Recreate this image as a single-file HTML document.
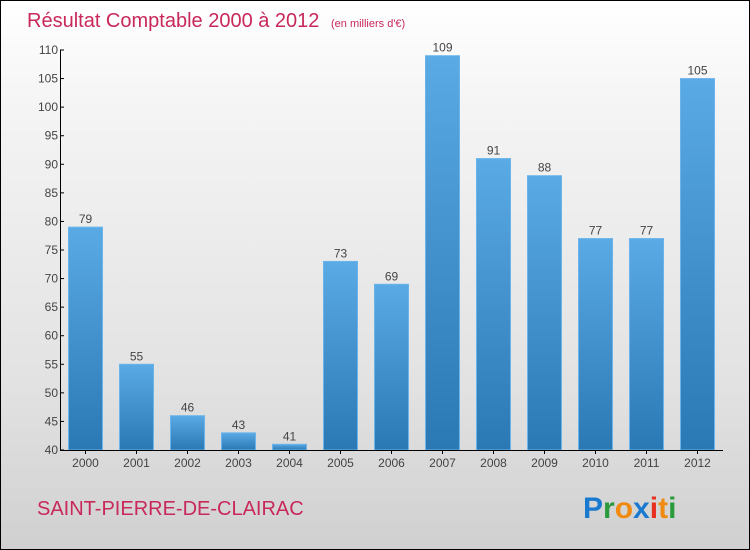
<!DOCTYPE html>
<html><head><meta charset="utf-8"><style>
body{margin:0}
#c{position:relative;width:748px;height:548px;border:1px solid #000;background:linear-gradient(#fff,#f4f4f4 20%,#e2e2e2 70%,#d0d0d0);overflow:hidden;font-family:"Liberation Sans",sans-serif}
</style></head><body>
<div id="c">
<svg id="s" width="748" height="548">
<defs><linearGradient id="g" x1="0" y1="0" x2="0" y2="1"><stop offset="0" stop-color="#5aaae6"/><stop offset="1" stop-color="#2a78b4"/></linearGradient></defs>
<text x="26" y="26" font-size="20" fill="#c8285a">Résultat Comptable 2000 à 2012 <tspan font-size="11" dx="6">(en milliers d'€)</tspan></text>
<text x="36" y="514" font-size="20" fill="#c8285a">SAINT-PIERRE-DE-CLAIRAC</text>
<text x="582" y="517" font-size="30" font-weight="bold"><tspan fill="#1a7ad0">P</tspan><tspan fill="#2a9a3a">r</tspan><tspan fill="#f08a10">o</tspan><tspan fill="#1a7ad0">x</tspan><tspan fill="#e83020">i</tspan><tspan fill="#f08a10">t</tspan><tspan fill="#2a9a3a">i</tspan></text>
<g id="plot"></g>
</svg></div>
<script>
const categories=["2000","2001","2002","2003","2004","2005","2006","2007","2008","2009","2010","2011","2012"];
const values=[79,55,46,43,41,73,69,109,91,88,77,77,105];
const ticks=[40,45,50,55,60,65,70,75,80,85,90,95,100,105,110];
const ns="http://www.w3.org/2000/svg",g=document.getElementById("plot");
const x0=59,band=51,y=v=>449-(v-40)*400/70;
function mk(t,a,txt){const e=document.createElementNS(ns,t);for(const k in a)e.setAttribute(k,a[k]);if(txt!=null)e.textContent=txt;g.appendChild(e);return e;}
categories.forEach((c,i)=>{const cx=x0+band*(i+0.5),v=values[i];
const r=mk("rect",{x:cx-17,y:y(v),width:34,height:449-y(v),fill:"url(#g)",stroke:"#6ab4ea","stroke-width":1});


const l=mk("text",{x:cx,y:y(v)-4,"font-size":12,fill:"#444","text-anchor":"middle"},v);


const t=mk("text",{x:cx,y:466,"font-size":12,fill:"#444","text-anchor":"middle"},c);


mk("line",{x1:cx,x2:cx,y1:449,y2:453,stroke:"#000"});
});
ticks.forEach(v=>{mk("line",{x1:59,x2:63,y1:y(v),y2:y(v),stroke:"#000"});
const t=mk("text",{x:57,y:y(v)+4,"font-size":12,fill:"#444","text-anchor":"end"},v);

});
const ya=mk("line",{x1:59.5,x2:59.5,y1:y(110),y2:449,stroke:"#000"});


const xa=mk("line",{x1:59,x2:722,y1:449.5,y2:449.5,stroke:"#000"});


</script>
</body></html>
